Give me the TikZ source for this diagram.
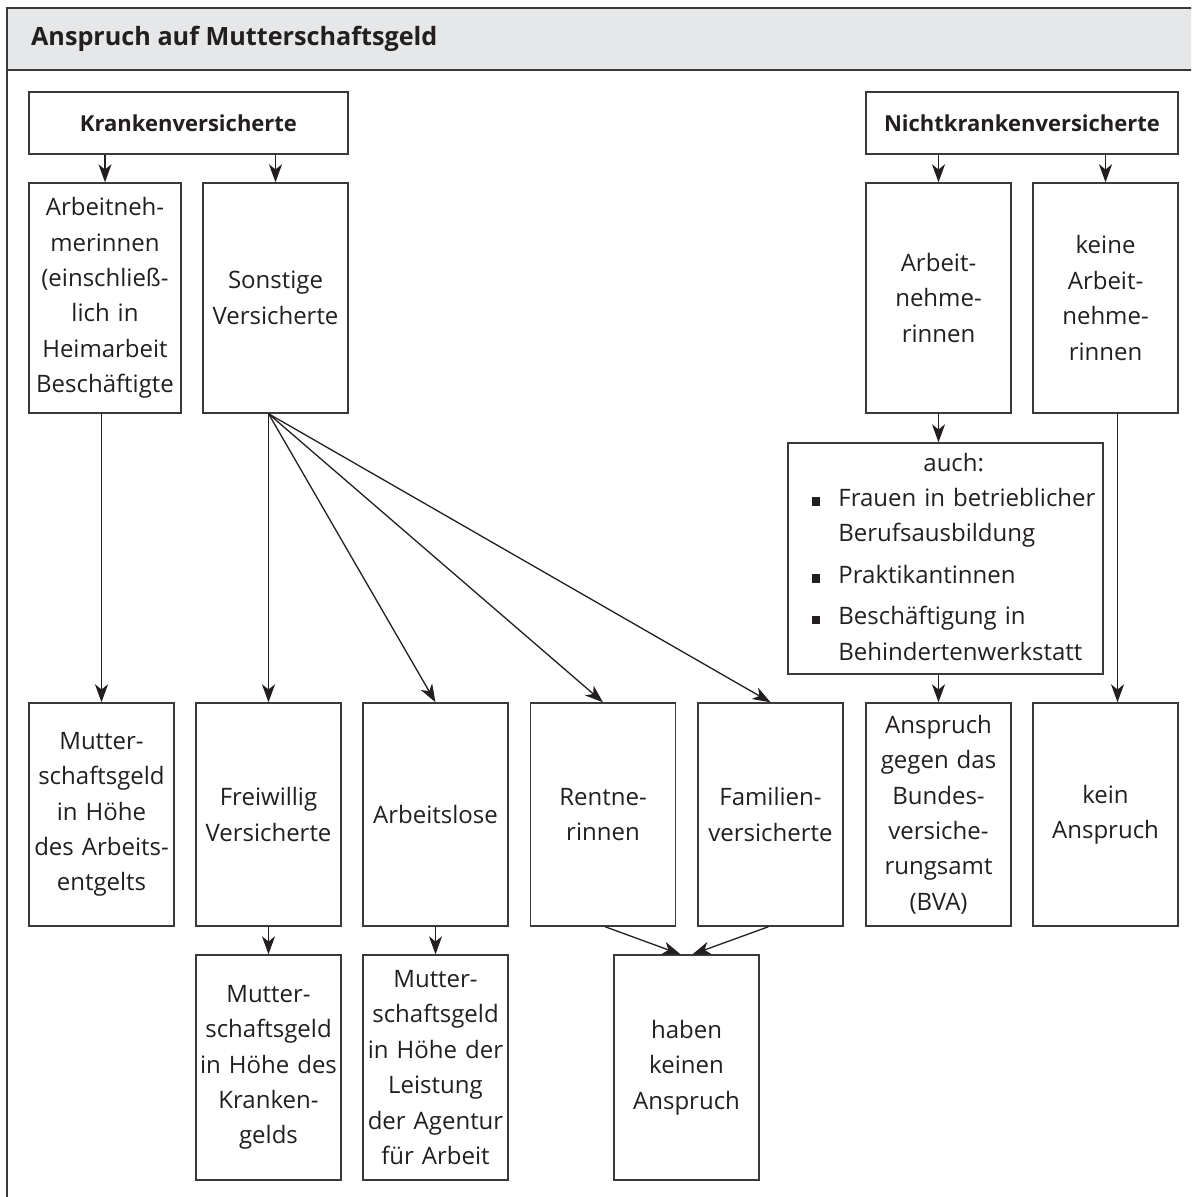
\documentclass[tikz,border=0pt]{standalone}
\usepackage{fontspec}
\setmainfont{Open Sans}
\usetikzlibrary{arrows.meta}
\definecolor{titlegray}{HTML}{E6E7E8}
\definecolor{linegray}{HTML}{3A3A3A}
\definecolor{inkblack}{HTML}{231F20}
\newcommand{\sqbul}{\rule[0.3pt]{4.2pt}{4.2pt}}
\tikzset{gbox/.style={
    rectangle,
    draw=linegray,
    line width=0.7pt,
    text=inkblack,
    text width=72pt,
    align=center,
    inner sep=0pt,
    font=\fontsize{12}{17.7}\selectfont,
    minimum width=72.5pt,
    minimum height=111.5pt
  },
  headbox/.style={gbox,font=\bfseries\fontsize{11}{14}\selectfont,text width=150pt,minimum height=31pt},
  tallbox/.style={gbox,minimum height=115pt},
  lowbox/.style={gbox,minimum height=112.5pt},
  listbox/.style={gbox,text width=133.5pt,minimum width=157.5pt,minimum height=115.5pt,align=left},
  link/.style={draw=inkblack,line width=0.65pt,-{Stealth[length=9pt,width=6.5pt,inset=2.6pt]}},
}
\begin{document}
\begin{tikzpicture}[x=0.5pt,y=-0.5pt]
  \useasboundingbox (0,0) rectangle (1191,1197);
  \clip (0,0) rectangle (1191,1197);
  \fill[titlegray] (7,8) rectangle (1200,70);
  \draw[linegray,line width=0.8pt] (1200,8) -- (7,8) -- (7,1205) (7,70) -- (1200,70);
  \node[anchor=west,text=inkblack,font=\bfseries\fontsize{12.6}{15}\selectfont] (title) at (24,39) {Anspruch auf Mutterschaftsgeld};

  \node[headbox,minimum width=159.5pt] (krank) at (188.5,123) {Krankenversicherte};
  \node[headbox,minimum width=156pt] (nkrank) at (1022,123) {Nichtkrankenversicherte};

  \node[tallbox,minimum width=76pt,text width=75pt] (arbk) at (105,298) {Arbeitneh-\\merinnen\\(einschließ-\\lich in\\Heimarbeit\\Beschäftigte};
  \node[tallbox] (sonst) at (275.5,298) {Sonstige\\Versicherte};
  \node[tallbox] (arbn) at (938.5,298) {Arbeit-\\nehme-\\rinnen};
  \node[tallbox] (keinarb) at (1105.5,298) {keine\\Arbeit-\\nehme-\\rinnen};

  \node[listbox] (auch) at (945.5,558.5) {\begin{tabular}{@{}l@{\hspace{9pt}}l@{}}
      \multicolumn{2}{@{}c@{}}{auch:}\\
      \sqbul & Frauen in betrieblicher\\
             & Berufsausbildung\\[3pt]
      \sqbul & Praktikantinnen\\[3pt]
      \sqbul & Beschäftigung in\\
             & Behindertenwerkstatt
    \end{tabular}};

  \node[gbox] (mutt1) at (101.5,814.5) {Mutter-\\schaftsgeld\\in Höhe\\des Arbeits-\\entgelts};
  \node[gbox] (freiw) at (268.5,814.5) {Freiwillig\\Versicherte};
  \node[gbox] (arbl) at (435.5,814.5) {Arbeitslose};
  \node[gbox] (rent) at (603,814.5) {Rentne-\\rinnen};
  \node[gbox] (fam) at (770.5,814.5) {Familien-\\versicherte};
  \node[gbox] (bva) at (938.5,814.5) {Anspruch\\gegen das\\Bundes-\\versiche-\\rungsamt\\(BVA)};
  \node[gbox] (keinan) at (1105.5,814.5) {kein\\Anspruch};

  \node[lowbox] (kgeld) at (268.5,1067.5) {Mutter-\\schaftsgeld\\in Höhe des\\Kranken-\\gelds};
  \node[lowbox] (alg) at (435.5,1067.5) {Mutter-\\schaftsgeld\\in Höhe der\\Leistung\\der Agentur\\für Arbeit};
  \node[lowbox] (haben) at (686.5,1067.5) {haben\\keinen\\Anspruch};

  \draw[link] (krank.south -| arbk.north) -- (arbk.north);
  \draw[link] (krank.south -| sonst.north) -- (sonst.north);
  \draw[link] (nkrank.south -| arbn.north) -- (arbn.north);
  \draw[link] (nkrank.south -| keinarb.north) -- (keinarb.north);
  \draw[link] (arbk.south -| mutt1.north) -- (mutt1.north);
  \coordinate (fan) at (sonst.south -| freiw.north);
  \foreach \t in {freiw,arbl,rent,fam}
    \draw[link] (fan) -- (\t.north);
  \draw[link] (arbn.south) -- (arbn.south |- auch.north);
  \draw[link] (auch.south -| bva.north) -- (bva.north);
  \draw[link] ([xshift=6pt]keinarb.south) -- ([xshift=6pt]keinan.north);
  \draw[link] (freiw.south) -- (kgeld.north);
  \draw[link] (arbl.south) -- (alg.north);
  \draw[link] ([xshift=1pt]rent.south) -- ([xshift=-3pt]haben.north);
  \draw[link] ([xshift=-1pt]fam.south) -- ([xshift=3pt]haben.north);
\end{tikzpicture}
\end{document}
